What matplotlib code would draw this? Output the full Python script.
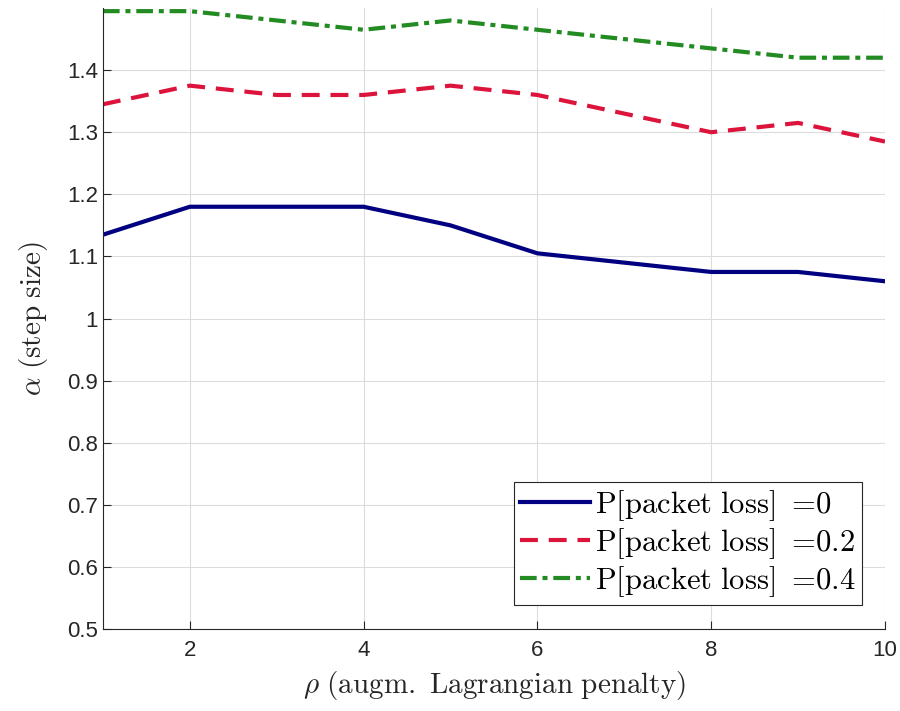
import matplotlib.pyplot as plt
from matplotlib.ticker import FuncFormatter
import numpy as np

plt.rcParams.update({
    "font.family": ["Liberation Sans", "DejaVu Sans"],
    "mathtext.fontset": "cm",
})

rho = [1, 2, 3, 4, 5, 6, 7, 8, 9, 10]
alpha_p0 = [1.135, 1.18, 1.18, 1.18, 1.15, 1.105, 1.09, 1.075, 1.075, 1.06]
alpha_p02 = [1.345, 1.375, 1.36, 1.36, 1.375, 1.36, 1.33, 1.30, 1.315, 1.285]
alpha_p04 = [1.495, 1.495, 1.48, 1.465, 1.48, 1.465, 1.45, 1.435, 1.42, 1.42]
labels = [r'$\mathrm{P[packet\ loss]}\ =\!0$',
          r'$\mathrm{P[packet\ loss]}\ =\!0.2$',
          r'$\mathrm{P[packet\ loss]}\ =\!0.4$']

fig = plt.figure(figsize=(9, 7.11), dpi=100)
ax = fig.add_axes([0.1144, 0.1153, 0.8689, 0.8734])

ax.plot(rho, alpha_p0, color='#000080', lw=3, label=labels[0])
ax.plot(rho, alpha_p02, color='#DC143C', lw=3, dashes=(4.3, 2.6), label=labels[1])
ax.plot(rho, alpha_p04, color='#228B22', lw=3, dashes=(4, 1.4, 1.2, 1.4), label=labels[2])

ax.set_xlim(1, 10)
ax.set_ylim(0.5, 1.5)
ax.set_xticks([2, 4, 6, 8, 10])
ax.set_yticks(np.round(np.arange(0.5, 1.41, 0.1), 1))
ax.yaxis.set_major_formatter(FuncFormatter(lambda v, p: '%g' % v))
ax.grid(True, color='#dcdcdc', lw=0.8)
ax.set_axisbelow(True)

for s in ['top', 'right']:
    ax.spines[s].set_visible(False)
for s in ['left', 'bottom']:
    ax.spines[s].set_color('#262626')
    ax.spines[s].set_linewidth(0.8)
ax.tick_params(direction='in', length=6, width=0.8, colors='#262626',
               labelsize=16, labelcolor='#262626')
ax.tick_params(axis='x', pad=8)

ax.set_xlabel(r'$\rho\ \mathrm{(augm.\ Lagrangian\ penalty)}$', fontsize=21, color='#262626', labelpad=6)
ax.set_ylabel(r'$\alpha\ \mathrm{(step\ size)}$', fontsize=21, color='#262626', labelpad=12)

leg = ax.legend(loc='lower right', fontsize=22, frameon=True, fancybox=False,
                edgecolor='#262626', framealpha=1, handlelength=2.3,
                handletextpad=0.15, borderpad=0.2, labelspacing=0.1,
                borderaxespad=0, bbox_to_anchor=(0.9706, 0.0386))
leg.get_frame().set_linewidth(0.8)

fig.savefig('out.png', dpi=100)
